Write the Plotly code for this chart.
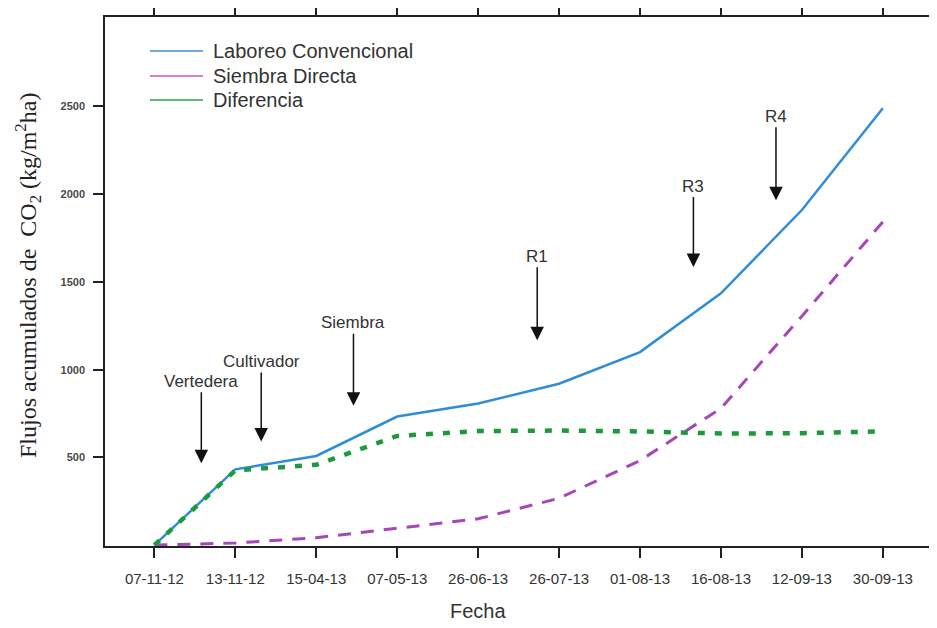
import plotly.graph_objects as go

fechas = ["07-11-12", "13-11-12", "15-04-13", "07-05-13", "26-06-13",
          "26-07-13", "01-08-13", "16-08-13", "12-09-13", "30-09-13"]
laboreo = [0, 432, 508, 733, 807, 920, 1100, 1435, 1910, 2490]
siembra = [0, 12, 42, 97, 150, 267, 482, 780, 1305, 1842]
diferencia = [0, 426, 458, 622, 650, 653, 648, 636, 638, 648]

eventos = ["Vertedera", "Cultivador", "Siembra", "R1", "R3", "R4"]
evento_x = [0.58, 1.32, 2.46, 4.73, 6.66, 7.68]
evento_y = [466, 590, 795, 1167, 1585, 1965]

C_BLUE = "#2f8dd8"
C_MAG = "#a547b8"
C_GREEN = "#1c9a3a"

fig = go.Figure()
fig.add_trace(go.Scatter(x=fechas, y=laboreo, mode="lines", name="Laboreo Convencional",
                         line=dict(color=C_BLUE, width=2.5), showlegend=False))
fig.add_trace(go.Scatter(x=fechas, y=siembra, mode="lines", name="Siembra Directa",
                         line=dict(color=C_MAG, width=3, dash="13px,10px"), showlegend=False))
fig.add_trace(go.Scatter(x=fechas, y=diferencia, mode="lines", name="Diferencia",
                         line=dict(color=C_GREEN, width=4.5, dash="7px,10px"), showlegend=False))

# page body has an 8px margin; the figure is sized to fill the rest of the window
OFF = 8
W, H = 937 - OFF, 628 - OFF
ml, mr, mt, mb = 105 - OFF, 4, 17 - OFF, 82
pw, ph = W - ml - mr, H - mt - mb

def px(xp):
    return (xp - OFF - ml) / pw

def py(yp):
    return (H - mb - (yp - OFF)) / ph

annotations = []
offsets = [-82, -80, -83, -84, -81, -84]
for name, xv, yv, ay in zip(eventos, evento_x, evento_y, offsets):
    annotations.append(dict(x=xv, y=yv, xref="x", yref="y", text=name,
                            showarrow=True, arrowhead=2, arrowsize=1.8, arrowwidth=1.5,
                            arrowcolor="#111111", ax=0, ay=ay, standoff=0,
                            font=dict(family="Liberation Sans, Arial", size=17, color="#333333")))

# legend (manual, solid lines as in the reference)
leg_items = [("Laboreo Convencional", "#3a92dc", 51), ("Siembra Directa", "#d24fc8", 76),
             ("Diferencia", "#25a54a", 100)]
shapes = []
for label, col, yp in leg_items:
    shapes.append(dict(type="line", xref="paper", yref="paper", x0=px(150), x1=px(203),
                       y0=py(yp), y1=py(yp), line=dict(color=col, width=1.5)))
    annotations.append(dict(x=px(211), y=py(yp), xref="paper", yref="paper", text=label,
                            showarrow=False, xanchor="left", yanchor="middle",
                            font=dict(family="Liberation Sans, Arial", size=20, color="#333333")))

annotations.append(dict(x=px(28), y=py(276), xref="paper", yref="paper",
                        text="Flujos acumulados de  CO<sub>2</sub> (kg/m<sup>2</sup>ha)",
                        showarrow=False, textangle=-90, xanchor="center", yanchor="middle",
                        font=dict(family="Liberation Serif, Times New Roman", size=24, color="#222222")))
annotations.append(dict(x=px(478), y=py(611), xref="paper", yref="paper", text="Fecha",
                        showarrow=False, xanchor="center", yanchor="middle",
                        font=dict(family="Liberation Sans, Arial", size=20, color="#333333")))

fig.update_layout(
    width=W, height=H,
    margin=dict(l=ml, r=mr, t=mt, b=mb, autoexpand=False),
    paper_bgcolor="white", plot_bgcolor="white",
    shapes=shapes, annotations=annotations,
    showlegend=False,
)
fig.update_xaxes(type="category", categoryorder="array", categoryarray=fechas,
                 range=[-0.61, 9.62], showgrid=False, zeroline=False, automargin=False,
                 showline=True, linecolor="#222222", linewidth=1.5, mirror="allticks",
                 ticks="outside", ticklen=10, tickwidth=1.5, tickcolor="#222222",
                 tickfont=dict(family="Liberation Sans, Arial", size=15, color="#333333"),
                 ticklabelstandoff=8)
fig.update_yaxes(range=[-5, 3010], tickvals=[500, 1000, 1500, 2000, 2500],
                 showgrid=False, zeroline=False, automargin=False,
                 showline=True, linecolor="#222222", linewidth=1.5, mirror="allticks",
                 ticks="outside", ticklen=10, tickwidth=1.5, tickcolor="#222222",
                 tickfont=dict(family="Liberation Sans, Arial", size=11, color="#4a4a4a", weight="bold"),
                 ticklabelstandoff=6)

fig.write_html("out.html")
